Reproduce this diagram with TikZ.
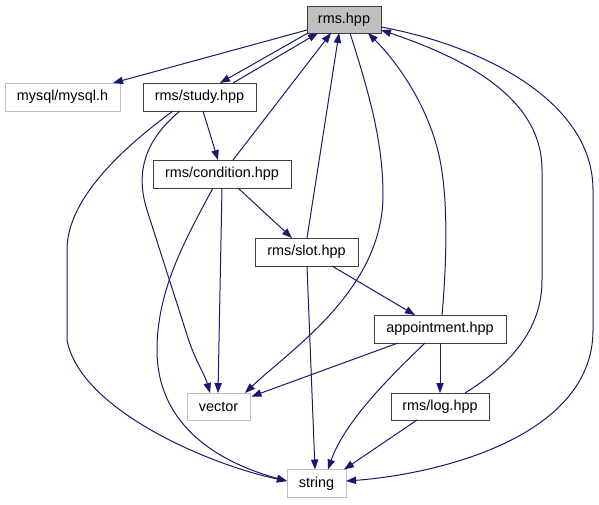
\documentclass[tikz,border=0pt]{standalone}
\usepackage{fontspec}
\setmainfont{Liberation Sans}
\usetikzlibrary{arrows.meta,calc}
\definecolor{edgec}{HTML}{191970}
\definecolor{grayb}{HTML}{BFBFBF}
\definecolor{darkb}{HTML}{404040}
\begin{document}
\begin{tikzpicture}[x=0.75pt,y=-0.75pt,
  every node/.style={font=\fontsize{10.8}{13}\selectfont, inner sep=0pt, outer sep=0pt},
  box/.style={draw=darkb, line width=0.75pt},
  ext/.style={draw=grayb, line width=0.75pt},
  cur/.style={draw=darkb, fill=grayb, line width=0.75pt},
  dep/.style={draw=edgec, line width=0.75pt, -{Triangle[length=7.5pt,width=5.5pt]}}]
\useasboundingbox (0,0) rectangle (599,504);
\node[cur, minimum width=74*0.75pt, minimum height=27*0.75pt] (rms) at (344,19.5) {rms.hpp};
\node[ext, minimum width=115*0.75pt, minimum height=28*0.75pt] (mysql) at (62.5,97) {mysql/mysql.h};
\node[box, minimum width=113*0.75pt, minimum height=28*0.75pt] (study) at (199.5,97) {rms/study.hpp};
\node[box, minimum width=138*0.75pt, minimum height=28*0.75pt] (cond) at (222,174) {rms/condition.hpp};
\node[box, minimum width=103*0.75pt, minimum height=28*0.75pt] (slot) at (306.5,252) {rms/slot.hpp};
\node[box, minimum width=132*0.75pt, minimum height=28*0.75pt] (appt) at (440,329) {appointment.hpp};
\node[ext, minimum width=63*0.75pt, minimum height=27*0.75pt] (vector) at (218.5,406.5) {vector};
\node[box, minimum width=98*0.75pt, minimum height=27*0.75pt] (log) at (440,406.5) {rms/log.hpp};
\node[ext, minimum width=59*0.75pt, minimum height=28*0.75pt] (string) at (316.5,483.5) {string};

\draw[dep] ($(rms)+(-37,10.5)$) -- ($(mysql)+(50.5,-14)$);
\draw[dep] ($(rms)+(-36,13.5)$) -- ($(study)+(20.5,-14)$);
\draw[dep] ($(study)+(33.5,-14)$) -- ($(rms)+(-26,13.5)$);
\draw[dep] ($(study)+(3.5,14)$) -- ($(cond)+(-4,-14)$);
\draw[dep] ($(cond)+(11,-14)$) -- ($(rms)+(-13,13.5)$);
\draw[dep] ($(slot)+(0.5,-14)$) -- ($(rms)+(-5,13.5)$);
\draw[dep] ($(rms)+(6,13.5)$) .. controls (368,90) and (383,140) .. (383,195) .. controls (383,290) and (290,350) .. ($(vector)+(26.5,-13.5)$);
\draw[dep] ($(appt)+(-42,14)$) -- ($(vector)+(33,-10)$);
\draw[dep] ($(appt)+(-15,14)$) .. controls (395,372) and (345,420) .. ($(string)+(11.5,-14)$);
\draw[dep] ($(appt)+(0,14)$) -- ($(log)+(0,-13.5)$);
\draw[dep] ($(log)+(-23,13.5)$) -- ($(string)+(27.5,-14)$);
\draw[dep] ($(slot)+(0.5,14)$) -- ($(string)+(-1.5,-14)$);
\draw[dep] ($(slot)+(25.5,14)$) -- ($(appt)+(-25,-14)$);
\draw[dep] ($(cond)+(16,14)$) -- ($(slot)+(-14.5,-14)$);
\draw[dep] ($(cond)+(0,14)$) -- ($(vector)+(-0.5,-13.5)$);
\draw[dep] ($(cond)+(-9,14)$) .. controls (185,240) and (157,290) .. (157,350) .. controls (157,420) and (210,460) .. ($(string)+(-29.5,-2.5)$);
\draw[dep] ($(study)+(-26.5,14)$) .. controls (120,150) and (67,200) .. (67,250) -- (67,340) .. controls (80,410) and (210,465) .. ($(string)+(-29.5,-2.5)$);
\draw[dep] ($(study)+(-19.5,14)$) .. controls (145,140) and (135,172) .. (147,210) -- (188,338) .. controls (195,360) and (205,375) .. ($(vector)+(-8.5,-13.5)$);
\draw[dep] ($(appt)+(2,-14)$) .. controls (447,260) and (448,200) .. (440,160) .. controls (430,110) and (400,65) .. ($(rms)+(24,13.5)$);
\draw[dep] ($(log)+(25,-13.5)$) .. controls (510,365) and (542,330) .. (542,280) -- (542,170) .. controls (542,100) and (470,60) .. ($(rms)+(37,10.5)$);
\draw[dep] ($(rms)+(37,7.5)$) .. controls (480,45) and (593,100) .. (593,190) -- (593,330) .. controls (593,440) and (430,475) .. ($(string)+(29.5,-2.5)$);
\end{tikzpicture}
\end{document}
